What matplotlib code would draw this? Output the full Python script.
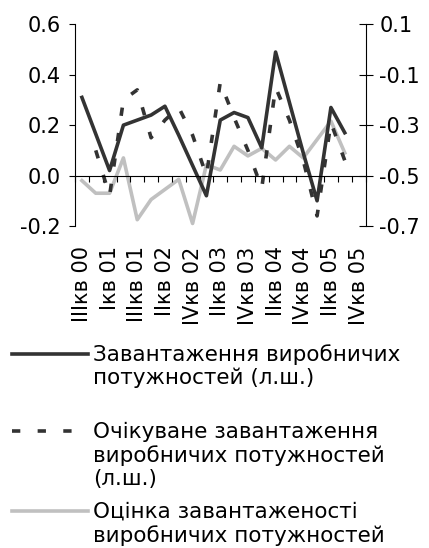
import matplotlib
matplotlib.use("Agg")
import matplotlib.pyplot as plt
import numpy as np
from matplotlib.lines import Line2D
from matplotlib.ticker import FormatStrFormatter

plt.rcParams["font.family"] = "DejaVu Sans"
plt.rcParams["axes.unicode_minus"] = False

kvartaly = ["IIIкв 00", "IVкв 00", "Iкв 01", "IIкв 01", "IIIкв 01", "IVкв 01",
            "IIкв 02", "IIIкв 02", "IVкв 02", "Iкв 03", "IIкв 03", "IIIкв 03",
            "IVкв 03", "Iкв 04", "IIкв 04", "IIIкв 04", "IVкв 04", "Iкв 05",
            "IIкв 05", "IIIкв 05", "IVкв 05"]

# ліва шкала
zavantazhennia = [0.31, 0.165, 0.02, 0.20, 0.22, 0.24, 0.275, 0.16, 0.04, -0.08,
                  0.22, 0.25, 0.23, 0.11, 0.49, 0.29, 0.09, -0.10, 0.27, 0.17]
ochikuvane = [np.nan, 0.10, -0.08, 0.30, 0.34, 0.15, 0.22, 0.27, 0.16, 0.0,
              0.37, 0.23, 0.10, -0.05, 0.35, 0.22, 0.06, -0.16, 0.21, 0.06]
# права шкала
otsinka = [-0.52, -0.57, -0.57, -0.43, -0.675, -0.595, -0.555, -0.515, -0.69, -0.457,
           -0.478, -0.384, -0.422, -0.392, -0.438, -0.384, -0.43, -0.357, -0.284, -0.41]

yticks_l = [-0.2, 0.0, 0.2, 0.4, 0.6]
yticks_r = [-0.7, -0.5, -0.3, -0.1, 0.1]

nazvy = ["Завантаження виробничих\nпотужностей (л.ш.)",
         "Очікуване завантаження\nвиробничих потужностей\n(л.ш.)",
         "Оцінка завантаженості\nвиробничих потужностей"]

W, H = 429, 548
fig = plt.figure(figsize=(W / 100, H / 100), dpi=100)
ax = fig.add_axes([75 / W, 1 - 226 / H, 290.5 / W, 201.7 / H])
ax2 = ax.twinx()
ax.set_zorder(2)
ax2.set_zorder(1)
ax.patch.set_visible(False)

# вісь категорій проходить через нуль
ax.spines["bottom"].set_position(("data", 0))
ax.spines[["top", "right"]].set_visible(False)
ax2.spines[["top", "left", "bottom"]].set_visible(False)
for s in ["left", "bottom"]:
    ax.spines[s].set_linewidth(0.8)
ax2.spines["right"].set_linewidth(0.8)

temnyi = "#333333"
siryi = "#c0c0c0"
lw = 2.6
shtrykh = (0, (2.3, 4.8))

x = np.arange(len(zavantazhennia))
ax.plot(x, zavantazhennia, color=temnyi, lw=lw)
ax.plot(x, ochikuvane, color=temnyi, lw=lw, ls=shtrykh, dash_capstyle="butt")
ax2.plot(x, otsinka, color=siryi, lw=lw)

ax.set_xlim(-0.5, len(kvartaly) - 0.5)
ax.set_ylim(-0.2, 0.6)
ax2.set_ylim(-0.7, 0.1)

ax.set_yticks(yticks_l)
ax2.set_yticks(yticks_r)
ax.yaxis.set_major_formatter(FormatStrFormatter("%.1f"))
ax2.yaxis.set_major_formatter(FormatStrFormatter("%.1f"))

pos = np.arange(len(kvartaly))
ax.set_xticks(pos[::2])
ax.set_xticklabels(kvartaly[::2])
ax.set_xticks(np.arange(len(kvartaly) + 1) - 0.5, minor=True)

ax.tick_params(axis="x", which="major", length=0, pad=51, labelsize=15,
               labelrotation=90)
ax.tick_params(axis="x", which="minor", direction="out", length=4, width=0.8)
ax.tick_params(axis="y", direction="out", length=4.5, width=0.8, labelsize=15, pad=6)
ax2.tick_params(axis="y", direction="inout", length=10, width=0.8, labelsize=15, pad=5)

# легенда під графіком
stili = [dict(color=temnyi), dict(color=temnyi, ls=shtrykh), dict(color=siryi)]
y_pershyi = [354, 431, 511]
for styl, nazva, yc in zip(stili, nazvy, y_pershyi):
    yf = 1 - yc / H
    fig.add_artist(Line2D([12 / W, 88 / W], [yf, yf], transform=fig.transFigure,
                          lw=lw, dash_capstyle="butt", **styl))
    for j, ryadok in enumerate(nazva.split("\n")):
        fig.text(93 / W, 1 - (yc + 7 + j * 23.5) / H, ryadok, fontsize=15.5, va="baseline")

fig.savefig("out.png", dpi=100)
